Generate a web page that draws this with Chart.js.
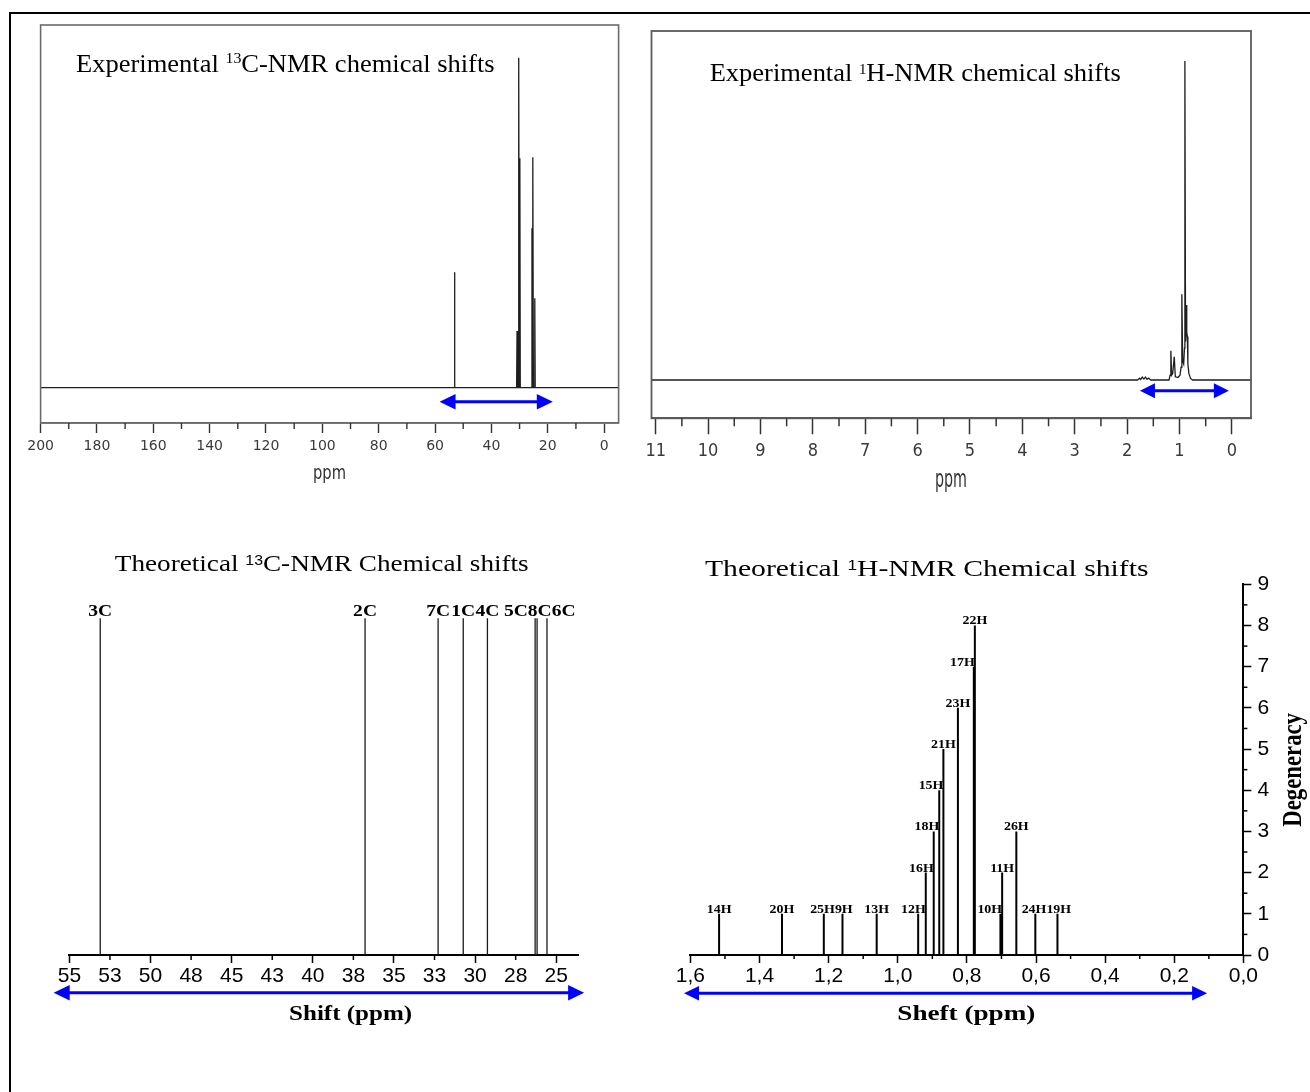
<!DOCTYPE html>
<html><head><meta charset="utf-8">
<script src="https://cdn.jsdelivr.net/npm/chart.js"></script>
<style>
html,body{margin:0;padding:0;background:#fff;}
#page{position:relative;width:1310px;height:1092px;overflow:hidden;background:#fff;}
#page canvas{position:absolute;left:0;top:0;}
#frame{position:absolute;left:9px;top:11.5px;width:1400px;height:1200px;border-left:2.5px solid #000;border-top:2.5px solid #000;}
</style></head><body>
<div id="page"><div id="frame"></div>
<canvas id="c1" width="1310" height="1092"></canvas>
<canvas id="c2" width="1310" height="1092"></canvas>
<canvas id="c3" width="1310" height="1092"></canvas>
<canvas id="c4" width="1310" height="1092"></canvas>
</div>
<script>
// ---------- DATA ----------
// Experimental 13C-NMR trace (ppm, relative intensity)
const c13ExpPpm = [200, 53.25, 53.1, 52.95, 31.05, 30.9, 30.75, 30.45, 30.3, 30.1, 29.9, 29.75, 25.75, 25.6, 25.45, 25.3, 25.1, 24.75, 24.6, 24.45, -5.15];
const c13ExpIntensity = [0, 0, 35.0, 0, 0, 17.2, 0, 0, 100, 0, 69.5, 0, 0, 48.3, 0, 69.8, 0, 0, 27.1, 0, 0];
const c13ExpTicks = [200, 180, 160, 140, 120, 100, 80, 60, 40, 20, 0];
const c13ExpMinorTicks = [190, 170, 150, 130, 110, 90, 70, 50, 30, 10];
const c13ExpArrow = [58.4, 18.2];

// Experimental 1H-NMR trace (ppm, relative intensity)
const h1ExpPpm = [11.08, 1.80, 1.76, 1.74, 1.71, 1.68, 1.65, 1.62, 1.59, 1.55, 1.20, 1.18, 1.165, 1.15, 1.13, 1.10, 1.08, 1.03, 0.99, 0.97, 0.955, 0.94, 0.92, 0.905, 0.897, 0.885, 0.872, 0.865, 0.858, 0.850, 0.84, 0.82, 0.79, 0.75, -0.365];
const h1ExpIntensity = [0, 0, 0.6, 0.2, 0.9, 0.3, 0.9, 0.2, 0.6, 0, 0, 1.5, 9.2, 1.5, 2.0, 7.3, 1.0, 0.8, 1.5, 4.0, 26.9, 6.0, 5.0, 10.0, 100, 12.0, 15.0, 23.5, 15.0, 13.6, 5.0, 2.0, 0.5, 0, 0];
const h1ExpTicks = [11, 10, 9, 8, 7, 6, 5, 4, 3, 2, 1, 0];
const h1ExpMinorTicks = [10.5, 9.5, 8.5, 7.5, 6.5, 5.5, 4.5, 3.5, 2.5, 1.5, 0.5];
const h1ExpArrow = [1.755, 0.057];

// Theoretical 13C-NMR sticks
const c13TheoLabels = ['3C', '2C', '7C', '1C', '4C', '5C', '8C', '6C'];
const c13TheoShift = [53.10, 36.78, 32.28, 30.73, 29.24, 26.30, 26.18, 25.57];
const c13TheoHeight = [1, 1, 1, 1, 1, 1, 1, 1];
const c13TheoTicks = [55, 52.5, 50, 47.5, 45, 42.5, 40, 37.5, 35, 32.5, 30, 27.5, 25];
const c13TheoTickLabels = ['55', '53', '50', '48', '45', '43', '40', '38', '35', '33', '30', '28', '25'];
const c13TheoArrow = [55.97, 23.28];

// Theoretical 1H-NMR sticks
const h1TheoLabels = ['14H', '20H', '25H', '9H', '13H', '12H', '16H', '18H', '15H', '21H', '23H', '17H', '22H', '10H', '11H', '26H', '24H', '19H'];
const h1TheoShift = [1.517, 1.335, 1.214, 1.160, 1.061, 0.941, 0.919, 0.896, 0.880, 0.868, 0.826, 0.780, 0.777, 0.703, 0.698, 0.657, 0.602, 0.538];
const h1TheoDegeneracy = [1, 1, 1, 1, 1, 1, 2, 3, 4, 5, 6, 7, 8, 1, 2, 3, 1, 1];
const h1TheoXTicks = [1.6, 1.4, 1.2, 1.0, 0.8, 0.6, 0.4, 0.2, 0.0];
const h1TheoXTickLabels = ['1,6', '1,4', '1,2', '1,0', '0,8', '0,6', '0,4', '0,2', '0,0'];
const h1TheoXMinorTicks = [1.5, 1.3, 1.1, 0.9, 0.7, 0.5, 0.3, 0.1];
const h1TheoYTicks = [0, 1, 2, 3, 4, 5, 6, 7, 8, 9];
const h1TheoYMinorTicks = [0.5, 1.5, 2.5, 3.5, 4.5, 5.5, 6.5, 7.5, 8.5];
const h1TheoArrow = [1.6185, 0.105];

// ---------- STYLE / HELPERS ----------
const SERIF = '"Liberation Serif", "Times New Roman", serif';
const SANS = '"Liberation Sans", Arial, sans-serif';
const NARROW = '"Liberation Sans Narrow", "DejaVu Sans Condensed", "Liberation Sans", sans-serif';
const DV = '"DejaVu Sans", sans-serif';
const BLUE = '#0000ff';
const W = 1310, H = 1092;

function pin(size) { return s => { if (s.isHorizontal()) s.height = size; else s.width = size; }; }
function fixTicks(arr) { return s => { s.ticks = arr.map(v => ({ value: v })); }; }

function fitText(ctx, parts, xL, xR, baseline, color) {
  let w = 0;
  parts.forEach(p => { ctx.font = p[1]; w += ctx.measureText(p[0]).width; });
  const sx = (xR - xL) / w;
  ctx.save();
  ctx.translate(xL, baseline); ctx.scale(sx, 1);
  ctx.textAlign = 'left'; ctx.textBaseline = 'alphabetic'; ctx.fillStyle = color || '#000';
  let x = 0;
  parts.forEach(p => { ctx.font = p[1]; ctx.fillText(p[0], x, p[2] || 0); x += ctx.measureText(p[0]).width; });
  ctx.restore();
}
function fitTextRotated(ctx, text, font, yBottom, yTop, xBase, perp) {
  ctx.save();
  ctx.font = font;
  const s = (yBottom - yTop) / ctx.measureText(text).width;
  ctx.translate(xBase, yBottom); ctx.rotate(-Math.PI / 2); ctx.scale(s, perp);
  ctx.textAlign = 'left'; ctx.textBaseline = 'alphabetic'; ctx.fillStyle = '#000';
  ctx.fillText(text, 0, 0);
  ctx.restore();
}
function centerText(ctx, text, font, cx, baseline, sx) {
  ctx.save();
  ctx.font = font; ctx.textAlign = 'center'; ctx.textBaseline = 'alphabetic'; ctx.fillStyle = '#000';
  ctx.translate(cx, baseline); ctx.scale(sx, 1);
  ctx.fillText(text, 0, 0);
  ctx.restore();
}
function drawArrow(ctx, xa, xb, y, head, half, lw) {
  const l = Math.min(xa, xb), r = Math.max(xa, xb);
  ctx.save();
  ctx.strokeStyle = BLUE; ctx.fillStyle = BLUE; ctx.lineWidth = lw;
  ctx.beginPath(); ctx.moveTo(l + head - 1, y); ctx.lineTo(r - head + 1, y); ctx.stroke();
  ctx.beginPath(); ctx.moveTo(l, y); ctx.lineTo(l + head, y - half); ctx.lineTo(l + head, y + half); ctx.closePath(); ctx.fill();
  ctx.beginPath(); ctx.moveTo(r, y); ctx.lineTo(r - head, y - half); ctx.lineTo(r - head, y + half); ctx.closePath(); ctx.fill();
  ctx.restore();
}
function minorX(ctx, scale, vals, len, lw, color) {
  ctx.save(); ctx.strokeStyle = color; ctx.lineWidth = lw;
  vals.forEach(v => {
    const p = scale.getPixelForValue(v);
    ctx.beginPath(); ctx.moveTo(p, scale.top); ctx.lineTo(p, scale.top + len); ctx.stroke();
  });
  ctx.restore();
}
function minorYRight(ctx, scale, vals, len, lw, color) {
  ctx.save(); ctx.strokeStyle = color; ctx.lineWidth = lw;
  vals.forEach(v => {
    const p = scale.getPixelForValue(v);
    ctx.beginPath(); ctx.moveTo(scale.left, p); ctx.lineTo(scale.left + len, p); ctx.stroke();
  });
  ctx.restore();
}
function sticks(xs, hs) {
  const pts = [];
  xs.forEach((x, i) => { pts.push({ x, y: 0 }, { x, y: hs[i] }, { x, y: null }); });
  return pts;
}
const common = { responsive: false, animation: false, events: [],
  plugins: { legend: { display: false }, tooltip: { enabled: false }, title: { display: false } } };

// ---------- PANEL 1 : Experimental 13C ----------
new Chart(document.getElementById('c1'), {
  type: 'line',
  data: { datasets: [{ data: c13ExpPpm.map((v, i) => ({ x: v, y: c13ExpIntensity[i] })),
    borderColor: '#1e1e1e', borderWidth: 1.3, pointRadius: 0, tension: 0 }] },
  options: { ...common,
    layout: { padding: { left: 40.6, right: W - 618.6, top: 25, bottom: H - 423 - 60 } },
    scales: {
      x: { type: 'linear', reverse: true, min: -5.15, max: 200, afterFit: pin(60), afterBuildTicks: fixTicks(c13ExpTicks),
        ticks: { autoSkip: false, maxRotation: 0, padding: 5.3, color: '#3a3a3a', font: { family: DV, size: 14 }, callback: v => String(v) },
        grid: { display: true, drawOnChartArea: false, drawTicks: true, tickLength: 10, tickColor: '#333', tickWidth: 1.4 },
        border: { display: true, color: '#6b6b6b', width: 1.6 } },
      y: { display: false, min: -10.7, max: 109.9 }
    } },
  plugins: [{ id: 'p1', afterDraw(chart) {
    const { ctx, chartArea: a, scales: { x } } = chart;
    ctx.save(); ctx.strokeStyle = '#6b6b6b'; ctx.lineWidth = 1.6;
    ctx.strokeRect(a.left, a.top, a.right - a.left, a.bottom - a.top); ctx.restore();
    minorX(ctx, x, c13ExpMinorTicks, 6, 1.4, '#333');
    drawArrow(ctx, x.getPixelForValue(c13ExpArrow[0]), x.getPixelForValue(c13ExpArrow[1]), a.bottom - 21.3, 16, 7.7, 3);
    fitText(ctx, [['Experimental ', '25px ' + SERIF, 0], ['13', '15px ' + SERIF, -8.2], ['C-NMR chemical shifts', '25px ' + SERIF, 0]], 76, 494.6, 71.5);
    fitText(ctx, [['ppm', '19px ' + DV, 0]], 313, 346, 478.7, '#333');
  } }]
});

// ---------- PANEL 2 : Experimental 1H ----------
new Chart(document.getElementById('c2'), {
  type: 'line',
  data: { datasets: [{ data: h1ExpPpm.map((v, i) => ({ x: v, y: h1ExpIntensity[i] })),
    borderColor: '#1e1e1e', borderWidth: 1.3, pointRadius: 0, tension: 0 }] },
  options: { ...common,
    layout: { padding: { left: 651.5, right: W - 1251, top: 31, bottom: H - 418.3 - 70 } },
    scales: {
      x: { type: 'linear', reverse: true, min: -0.365, max: 11.08, afterFit: pin(70), afterBuildTicks: fixTicks(h1ExpTicks),
        ticks: { autoSkip: false, maxRotation: 0, padding: 6.6, color: '#3a3a3a', font: { family: NARROW, size: 18 }, callback: v => String(v) },
        grid: { display: true, drawOnChartArea: false, drawTicks: true, tickLength: 16, tickColor: '#333', tickWidth: 1.5 },
        border: { display: true, color: '#5a5a5a', width: 1.8 } },
      y: { display: false, min: -12.0, max: 109.4 }
    } },
  plugins: [{ id: 'p2', afterDraw(chart) {
    const { ctx, chartArea: a, scales: { x } } = chart;
    ctx.save(); ctx.strokeStyle = '#5a5a5a'; ctx.lineWidth = 1.8;
    ctx.strokeRect(a.left, a.top, a.right - a.left, a.bottom - a.top); ctx.restore();
    minorX(ctx, x, h1ExpMinorTicks, 8, 1.5, '#333');
    drawArrow(ctx, x.getPixelForValue(h1ExpArrow[0]), x.getPixelForValue(h1ExpArrow[1]), a.bottom - 27.6, 15, 7.5, 3);
    fitText(ctx, [['Experimental ', '25px ' + SERIF, 0], ['1', '14px ' + SERIF, -7], ['H-NMR chemical shifts', '25px ' + SERIF, 0]], 709.7, 1120.8, 81);
    fitText(ctx, [['ppm', '24px ' + DV, 0]], 935, 967, 487, '#333');
  } }]
});

// ---------- PANEL 3 : Theoretical 13C ----------
new Chart(document.getElementById('c3'), {
  type: 'line',
  data: { datasets: [{ data: sticks(c13TheoShift, c13TheoHeight), borderColor: '#1a1a1a', borderWidth: 1.3,
    pointRadius: 0, tension: 0, spanGaps: false }] },
  options: { ...common,
    layout: { padding: { left: 69.4, right: W - 578.3, top: 584.6, bottom: H - 955 - 60 } },
    scales: {
      x: { type: 'linear', reverse: true, min: 23.64, max: 55, afterFit: pin(60), afterBuildTicks: fixTicks(c13TheoTicks),
        ticks: { autoSkip: false, maxRotation: 0, padding: 1.1, color: '#000', font: { family: SANS, size: 21 },
          callback: (v, i) => c13TheoTickLabels[i] },
        grid: { display: true, drawOnChartArea: false, drawTicks: true, tickLength: 8, tickWidth: 1.5,
          tickColor: c => (c.tick && Math.abs(c.tick.value % 5) < 1e-6) ? '#000' : 'rgba(0,0,0,0)' },
        border: { display: true, color: '#000', width: 2 } },
      y: { display: false, min: 0, max: 1.1 }
    } },
  plugins: [{ id: 'p3', afterDraw(chart) {
    const { ctx, chartArea: a, scales: { x, y } } = chart;
    minorX(ctx, x, c13TheoTicks.filter(v => Math.abs(v % 5) > 1e-6), 5, 1.5, '#000');
    drawArrow(ctx, x.getPixelForValue(c13TheoArrow[0]), x.getPixelForValue(c13TheoArrow[1]), a.bottom + 37.7, 16, 7.8, 3);
    // stick labels, pushed apart where they collide
    const S = 1.15, font = 'bold 17px ' + SERIF;
    ctx.font = font;
    const items = c13TheoLabels.map((t, i) => ({ t, ideal: x.getPixelForValue(c13TheoShift[i]), w: ctx.measureText(t).width * S, h: c13TheoHeight[i] }));
    items.sort((p, q) => p.ideal - q.ideal);
    const clusters = [];
    items.forEach(it => {
      clusters.push({ list: [it] });
      const place = c => {
        const tot = c.list.reduce((s, e) => s + e.w, 0);
        let cum = 0, acc = 0;
        c.list.forEach(e => { acc += e.ideal - (cum + e.w / 2); cum += e.w; });
        c.start = acc / c.list.length; c.end = c.start + tot;
      };
      place(clusters[clusters.length - 1]);
      while (clusters.length > 1 && clusters[clusters.length - 2].end > clusters[clusters.length - 1].start) {
        const last = clusters.pop();
        const prev = clusters[clusters.length - 1];
        prev.list = prev.list.concat(last.list); place(prev);
      }
    });
    clusters.forEach(c => { let cum = c.start; c.list.forEach(e => { e.cx = cum + e.w / 2; cum += e.w; }); });
    items.forEach(e => centerText(ctx, e.t, font, e.cx, y.getPixelForValue(e.h) - 2, S));
    fitText(ctx, [['Theoretical ', '24px ' + SERIF, 0], ['13', '14px ' + SANS, -6], ['C-NMR Chemical shifts', '24px ' + SERIF, 0]], 114.8, 528.7, 571);
    fitText(ctx, [['Shift (ppm)', 'bold 20px ' + SERIF, 0]], 289.1, 412.1, 1020);
  } }]
});

// ---------- PANEL 4 : Theoretical 1H ----------
new Chart(document.getElementById('c4'), {
  type: 'line',
  data: { datasets: [{ data: sticks(h1TheoShift, h1TheoDegeneracy), borderColor: '#000', borderWidth: 2,
    pointRadius: 0, tension: 0, spanGaps: false }] },
  options: { ...common,
    layout: { padding: { left: 690.4, right: W - 1243.4 - 50, top: 584.3, bottom: H - 955 - 60 } },
    scales: {
      x: { type: 'linear', reverse: true, min: 0, max: 1.6, afterFit: pin(60), afterBuildTicks: fixTicks(h1TheoXTicks),
        ticks: { autoSkip: false, maxRotation: 0, padding: 1.1, color: '#000', font: { family: SANS, size: 21 },
          callback: (v, i) => h1TheoXTickLabels[i] },
        grid: { display: true, drawOnChartArea: false, drawTicks: true, tickLength: 8, tickColor: '#000', tickWidth: 1.5 },
        border: { display: true, color: '#000', width: 2 } },
      y: { type: 'linear', position: 'right', min: 0, max: 9, afterFit: pin(50), afterBuildTicks: fixTicks(h1TheoYTicks),
        ticks: { autoSkip: false, padding: 6, color: '#000', font: { family: SANS, size: 21 }, callback: v => String(v) },
        grid: { display: true, drawOnChartArea: false, drawTicks: true, tickLength: 8, tickColor: '#000', tickWidth: 1.5 },
        border: { display: true, color: '#000', width: 2 } }
    } },
  plugins: [{ id: 'p4', afterDraw(chart) {
    const { ctx, chartArea: a, scales: { x, y } } = chart;
    minorX(ctx, x, h1TheoXMinorTicks, 4, 1.5, '#000');
    minorYRight(ctx, y, h1TheoYMinorTicks, 4, 1.5, '#000');
    drawArrow(ctx, x.getPixelForValue(h1TheoArrow[0]), x.getPixelForValue(h1TheoArrow[1]), a.bottom + 38.3, 15, 7.3, 3);
    const S = 1.16, font = 'bold 12px ' + SERIF;
    ctx.font = font;
    const items = h1TheoLabels.map((t, i) => ({ t, x: x.getPixelForValue(h1TheoShift[i]), h: h1TheoDegeneracy[i], w: ctx.measureText(t).width * S }));
    items.forEach((it, i) => {
      it.cx = it.x;
      let near = null;
      items.forEach((o, j) => {
        if (j !== i && o.h > it.h && o.x > it.x && o.x < it.x + it.w / 2 + 1) { if (near === null || o.x < near) near = o.x; }
      });
      if (near !== null) it.cx = near - it.w / 2;
    });
    const rows = {};
    items.forEach(it => { (rows[it.h] = rows[it.h] || []).push(it); });
    Object.values(rows).forEach(r => {
      r.sort((p, q) => p.cx - q.cx);
      for (let k = 1; k < r.length; k++) {
        const ov = (r[k - 1].cx + r[k - 1].w / 2) - (r[k].cx - r[k].w / 2);
        if (ov > 0) { r[k - 1].cx -= ov / 2; r[k].cx += ov / 2; }
      }
    });
    items.forEach(it => centerText(ctx, it.t, font, it.cx, y.getPixelForValue(it.h) - 1, S));
    fitText(ctx, [['Theoretical ', '24px ' + SERIF, 0], ['1', '14px ' + SANS, -6], ['H-NMR Chemical shifts', '24px ' + SERIF, 0]], 705, 1148.5, 576);
    fitText(ctx, [['Sheft (ppm)', 'bold 22px ' + SERIF, 0]], 897.3, 1035.3, 1020);
    fitTextRotated(ctx, 'Degeneracy', 'bold 22.8px ' + SERIF, 826.7, 713, 1301, 1.18);
  } }]
});
</script>
</body></html>
